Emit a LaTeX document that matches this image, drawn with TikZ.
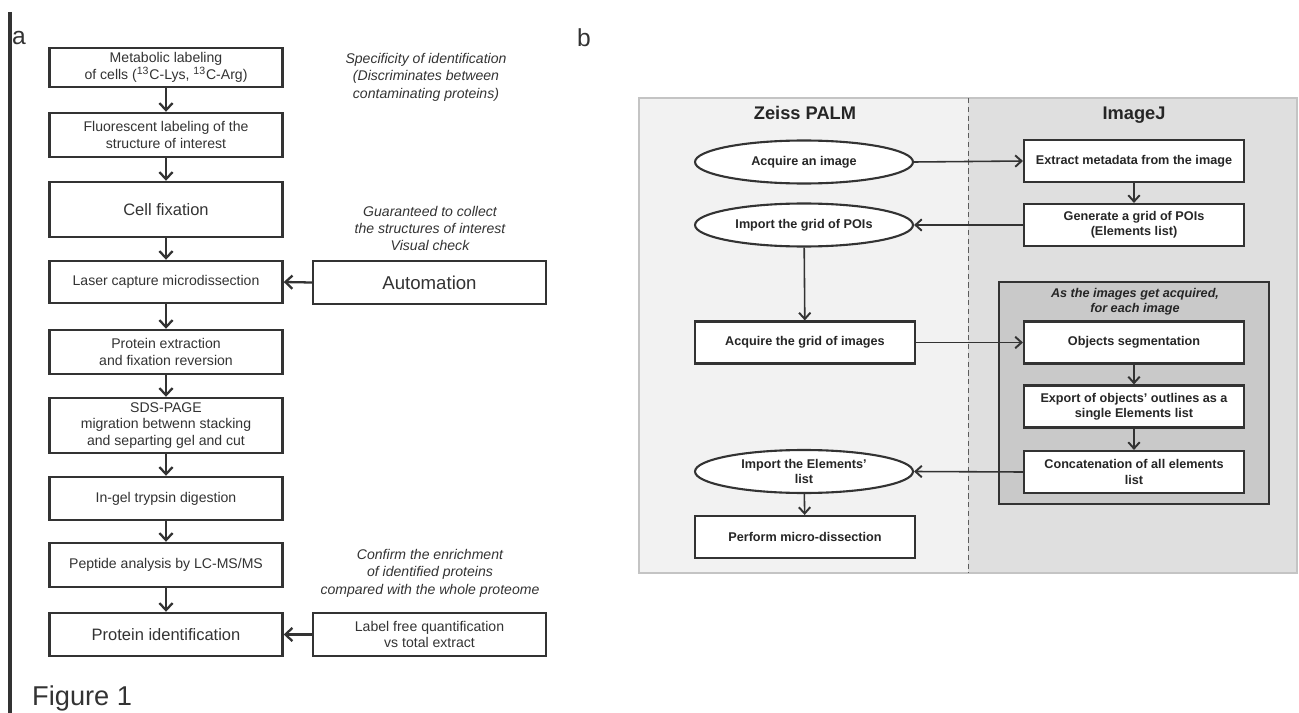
\documentclass[tikz,border=0pt]{standalone}
\usepackage{fontspec}
\setmainfont{Liberation Sans}
\usepackage{xcolor}
\usepackage{tikz}
\definecolor{figInk}{HTML}{333333}
\definecolor{figLine}{HTML}{333333}
\definecolor{laneLeft}{HTML}{F2F2F2}
\definecolor{laneRight}{HTML}{DFDFDF}
\definecolor{laneLoop}{HTML}{C9C9C9}
\definecolor{laneEdge}{HTML}{C4C4C4}
\usetikzlibrary{arrows.meta,positioning,shapes.geometric}

\begin{document}
\begin{tikzpicture}[
  x=0.02cm, y=-0.02cm,
  stage/.style={draw=figLine, line width=1.4pt, minimum width=4.66cm, align=center, fill=white, text=figInk, inner sep=1pt, font=\fontsize{8}{9.6}\selectfont},
  bigstage/.style={stage, font=\fontsize{9.4}{11}\selectfont},
  note/.style={align=center, text=figInk, font=\fontsize{8}{9.9}\selectfont\itshape},
  task/.style={draw=figLine, line width=1.2pt, minimum width=4.4cm, minimum height=0.84cm, align=center, fill=white, text=black!85, inner sep=1pt, font=\fontsize{7.2}{8.7}\selectfont\bfseries},
  io/.style={task, ellipse, minimum width=4.36cm, minimum height=0.86cm, inner sep=0pt},
  lane/.style={font=\fontsize{10.4}{12}\selectfont\bfseries, text=black!85, anchor=base},
  flow/.style={-{Straight Barb[length=4pt, width=7.5pt, line width=1.3pt]}, line width=1.3pt, figLine},
  link/.style={-{Straight Barb[length=3.6pt, width=6.5pt, line width=1.1pt]}, line width=0.9pt, figLine},
  panel/.style={font=\fontsize{14}{16}\selectfont, text=figInk}
]
\useasboundingbox (0,0) rectangle (1299,713);

% Panel a
\draw[line width=2pt, figInk] (10,12) -- (10,713);
\node[panel] (tagA) at (19,38) {a};
\node[font=\fontsize{15.5}{18}\selectfont, text=figInk, anchor=west] (figname) at (26,698) {Figure 1};

\node[stage, minimum height=0.78cm] (metab) at (166,67.5) {Metabolic labeling\\of cells (\textsuperscript{13}C-Lys, \textsuperscript{13}C-Arg)};
\node[stage, minimum height=0.88cm] (fluo) at (166,135) {Fluorescent labeling of the\\structure of interest};
\node[bigstage, minimum height=1.1cm] (fix) at (166,209.5) {Cell fixation};
\node[stage, minimum height=0.84cm] (lcm) at (166,282) {Laser capture microdissection};
\node[stage, minimum height=0.88cm] (extract) at (166,352) {Protein extraction\\and fixation reversion};
\node[stage, minimum height=1.1cm] (sds) at (166,425.5) {SDS-PAGE\\migration betwenn stacking\\and separting gel and cut};
\node[stage, minimum height=0.86cm] (digest) at (166,498.5) {In-gel trypsin digestion};
\node[stage, minimum height=0.88cm] (lcms) at (166,565) {Peptide analysis by LC-MS/MS};
\node[bigstage, minimum height=0.86cm] (ident) at (166,634.5) {Protein identification};

\node[stage, minimum height=0.86cm, font=\fontsize{10.6}{12}\selectfont] (auto) at (429.5,282.5) {Automation};
\node[stage, minimum height=0.86cm] (lfq) at (429.5,634.5) {Label free quantification\\vs total extract};

\node[note] (why1) at (426,77) {Specificity of identification\\(Discriminates between\\contaminating proteins)};
\node[note] (why2) at (430,228.5) {Guaranteed to collect\\the structures of interest\\Visual check};
\node[note] (why3) at (430,573) {Confirm the enrichment\\of identified proteins\\compared with the whole proteome};

\draw[flow] (metab) -- (fluo);
\draw[flow] (fluo) -- (fix);
\draw[flow] (fix) -- (lcm);
\draw[flow] (lcm) -- (extract);
\draw[flow] (extract) -- (sds);
\draw[flow] (sds) -- (digest);
\draw[flow] (digest) -- (lcms);
\draw[flow] (lcms) -- (ident);
\draw[flow] (auto.west) -- (lcm.east);
\draw[flow] (lfq.west) -- (ident.east);

% Panel b: swim lanes
\node[panel] (tagB) at (584,38) {b};
\fill[laneLeft] (639,98) rectangle (968,573);
\fill[laneRight] (968,98) rectangle (1297,573);
\draw[laneEdge, line width=1pt] (639,98) rectangle (1297,573);
\draw[figLine!80, densely dashed, line width=0.5pt] (968,98) -- (968,573);
\node[lane] (zeiss) at (805,120) {Zeiss PALM};
\node[lane] (imagej) at (1134,120) {ImageJ};

% Per-image loop
\draw[figLine, line width=1.3pt, fill=laneLoop] (999,282) rectangle (1269,504);
\node[font=\fontsize{7.2}{8.7}\selectfont\bfseries\itshape, text=black!85, align=center] (loop) at (1135,302) {As the images get acquired,\\for each image};

\node[io] (acq1) at (804,162) {Acquire an image};
\node[io] (grid) at (804,225) {Import the grid of POIs};
\node[task] (acqgrid) at (805,342.5) {Acquire the grid of images};
\node[io] (elems) at (804,471.5) {Import the Elements'\\list};
\node[task] (dissect) at (805,537) {Perform micro-dissection};

\node[task] (meta) at (1134,161) {Extract metadata from the image};
\node[task] (pois) at (1134,225) {Generate a grid of POIs\\(Elements list)};
\node[task] (segm) at (1134,342.5) {Objects segmentation};
\node[task] (outl) at (1134,406.5) {Export of objects' outlines as a\\single Elements list};
\node[task] (concat) at (1134,472) {Concatenation of all elements\\list};

\draw[link] (acq1.east) -- (meta.west);
\draw[link] (meta) -- (pois);
\draw[link] (pois.west) -- (grid.east);
\draw[link] (grid) -- (acqgrid);
\draw[link] (acqgrid.east) -- (segm.west);
\draw[link] (segm) -- (outl);
\draw[link] (outl) -- (concat);
\draw[link] (concat.west) -- (elems.east);
\draw[link] (elems) -- (dissect);

\end{tikzpicture}
\end{document}
